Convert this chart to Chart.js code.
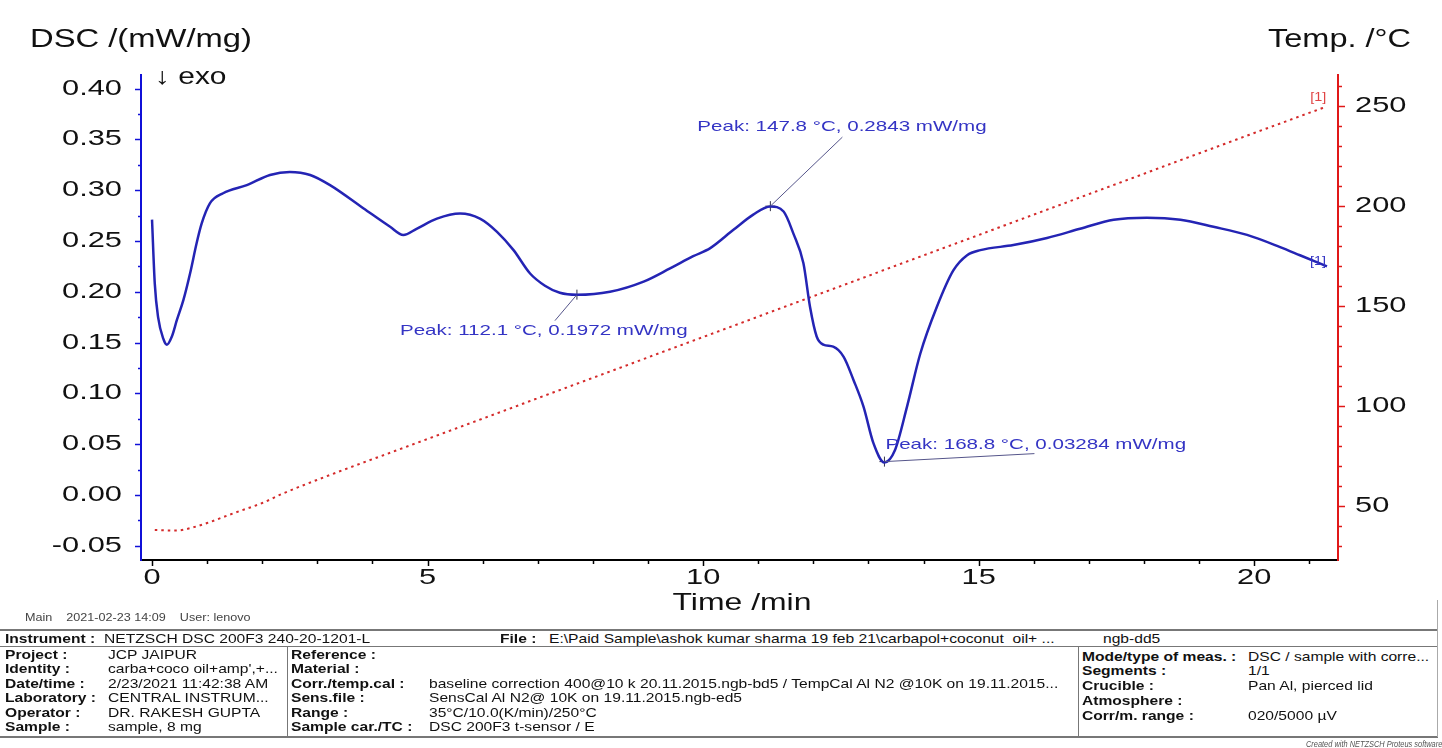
<!DOCTYPE html>
<html>
<head>
<meta charset="utf-8">
<script src="https://cdn.jsdelivr.net/npm/chart.js@4.4.1/dist/chart.umd.min.js"></script>
<style>
  html,body{margin:0;padding:0;background:#fff;overflow:hidden;}
  body{width:1442px;height:748px;position:relative;font-family:"Liberation Sans",Arial,sans-serif;}
  #chart{position:absolute;left:0;top:0;}
  .t{position:absolute;white-space:pre;font-size:13px;line-height:15px;color:#111;transform:scaleX(1.2);transform-origin:left center;}
  .b{font-weight:bold;}
  .ln{position:absolute;background:#777;}
</style>
</head>
<body>
<canvas id="chart" width="1442" height="625"></canvas>

<div class="t" style="left:25px;top:610px;font-size:10.5px;color:#444">Main    2021-02-23 14:09    User: lenovo</div>

<div class="ln" style="left:0;top:629px;width:1438px;height:1.5px"></div>
<div class="ln" style="left:0;top:646px;width:1438px;height:1px"></div>
<div class="ln" style="left:0;top:736px;width:1438px;height:1.5px"></div>
<div class="ln" style="left:287px;top:646px;width:1px;height:90px"></div>
<div class="ln" style="left:1078px;top:646px;width:1px;height:90px"></div>
<div class="ln" style="left:1437px;top:600px;width:1px;height:137px;background:#aaa"></div>

<div class="t b" style="left:5px;top:631px">Instrument :</div>
<div class="t" style="left:104px;top:631px">NETZSCH DSC 200F3 240-20-1201-L</div>
<div class="t b" style="left:500px;top:631px">File :</div>
<div class="t" style="left:549px;top:631px">E:\Paid Sample\ashok kumar sharma 19 feb 21\carbapol+coconut  oil+ ...</div>
<div class="t" style="left:1103px;top:631px">ngb-dd5</div>

<div class="t b" style="left:5px;top:647px">Project :</div>
<div class="t b" style="left:5px;top:661px">Identity :</div>
<div class="t b" style="left:5px;top:676px">Date/time :</div>
<div class="t b" style="left:5px;top:690px">Laboratory :</div>
<div class="t b" style="left:5px;top:705px">Operator :</div>
<div class="t b" style="left:5px;top:719px">Sample :</div>
<div class="t" style="left:108px;top:647px">JCP JAIPUR</div>
<div class="t" style="left:108px;top:661px">carba+coco oil+amp',+...</div>
<div class="t" style="left:108px;top:676px">2/23/2021 11:42:38 AM</div>
<div class="t" style="left:108px;top:690px">CENTRAL INSTRUM...</div>
<div class="t" style="left:108px;top:705px">DR. RAKESH GUPTA</div>
<div class="t" style="left:108px;top:719px">sample, 8 mg</div>

<div class="t b" style="left:291px;top:647px">Reference :</div>
<div class="t b" style="left:291px;top:661px">Material :</div>
<div class="t b" style="left:291px;top:676px">Corr./temp.cal :</div>
<div class="t b" style="left:291px;top:690px">Sens.file :</div>
<div class="t b" style="left:291px;top:705px">Range :</div>
<div class="t b" style="left:291px;top:719px">Sample car./TC :</div>
<div class="t" style="left:429px;top:676px">baseline correction 400@10 k 20.11.2015.ngb-bd5 / TempCal Al N2 @10K on 19.11.2015...</div>
<div class="t" style="left:429px;top:690px">SensCal Al N2@ 10K on 19.11.2015.ngb-ed5</div>
<div class="t" style="left:429px;top:705px">35°C/10.0(K/min)/250°C</div>
<div class="t" style="left:429px;top:719px">DSC 200F3 t-sensor / E</div>

<div class="t b" style="left:1082px;top:649px">Mode/type of meas. :</div>
<div class="t b" style="left:1082px;top:663px">Segments :</div>
<div class="t b" style="left:1082px;top:678px">Crucible :</div>
<div class="t b" style="left:1082px;top:693px">Atmosphere :</div>
<div class="t b" style="left:1082px;top:708px">Corr/m. range :</div>
<div class="t" style="left:1248px;top:649px">DSC / sample with corre...</div>
<div class="t" style="left:1248px;top:663px">1/1</div>
<div class="t" style="left:1248px;top:678px">Pan Al, pierced lid</div>
<div class="t" style="left:1248px;top:708px">020/5000 µV</div>

<div class="t" style="left:1306px;top:736px;font-size:9.5px;font-style:italic;color:#555;transform:scaleX(0.78)">Created with NETZSCH Proteus software</div>

<script>
/* ===== Dados ===== */
const dscTime  = [0.00,0.05,0.11,0.21,0.27,0.36,0.45,0.57,0.69,0.81,0.90,1.05,1.29,1.72,2.14,2.50,2.87,3.23,3.84,4.32,
                  4.56,4.80,5.17,5.59,5.95,6.26,6.56,6.86,7.13,7.40,7.71,8.31,8.92,9.40,9.82,10.13,10.55,10.91,11.22,11.46,
                  11.64,11.82,11.94,12.06,12.18,12.36,12.55,12.73,12.91,13.09,13.29,13.48,13.70,13.94,14.24,14.54,14.79,15.03,15.63,16.24,
                  16.84,17.45,18.05,18.66,19.26,19.87,20.47,20.83,21.32];
const dscValue = [0.271,0.208,0.175,0.153,0.148,0.156,0.172,0.192,0.218,0.248,0.267,0.287,0.297,0.305,0.315,0.318,0.315,0.305,0.282,0.264,
                  0.256,0.262,0.272,0.277,0.272,0.259,0.241,0.218,0.206,0.199,0.197,0.200,0.210,0.223,0.235,0.243,0.261,0.276,0.284,0.279,
                  0.257,0.228,0.185,0.156,0.148,0.146,0.136,0.113,0.087,0.051,0.032,0.044,0.087,0.139,0.185,0.221,0.236,0.241,0.246,0.253,
                  0.262,0.271,0.273,0.271,0.264,0.256,0.244,0.236,0.225];

const tempTime  = [0.05,0.45,0.69,1.00,1.48,2.00,2.38,2.99,5.00,10.00,15.00,20.00,21.29];
const tempValue = [38.0,37.7,38.9,41.5,46.4,51.5,56.3,63.0,83.5,134.5,185.5,236.5,249.5];

const peakTime   = [7.71, 11.22, 13.29];
const peakValue  = [0.1972, 0.2843, 0.03284];
const peakLabels = ['Peak: 112.1 °C, 0.1972 mW/mg', 'Peak: 147.8 °C, 0.2843 mW/mg', 'Peak: 168.8 °C, 0.03284 mW/mg'];

const timeTicks = [0, 5, 10, 15, 20];
const dscTicks  = [-0.05, 0.00, 0.05, 0.10, 0.15, 0.20, 0.25, 0.30, 0.35, 0.40];
const tempTicks = [50, 100, 150, 200, 250];

/* ===== Cores ===== */
const BLUE = '#2424b4', RED = '#d42a2a', TXT = '#111', ANN = '#3434c4';

/* ===== Util ===== */
const xy = (xs, ys)=> xs.map((x,i)=>({x, y:ys[i]}));

// texto "esticado" na horizontal, como no relatório original
function sText(ctx, txt, x, y, size, color, sx, align){
  ctx.save();
  ctx.font = size+'px "Liberation Sans", Arial, sans-serif';
  ctx.fillStyle = color;
  ctx.textBaseline = 'middle';
  ctx.textAlign = 'left';
  const w = ctx.measureText(txt).width * sx;
  const left = align==='center' ? x - w/2 : align==='right' ? x - w : x;
  ctx.translate(left, y);
  ctx.scale(sx, 1);
  ctx.fillText(txt, 0, 0);
  ctx.restore();
}

function line(ctx, x1, y1, x2, y2, color, w){
  ctx.beginPath(); ctx.moveTo(x1,y1); ctx.lineTo(x2,y2);
  ctx.strokeStyle = color; ctx.lineWidth = w; ctx.stroke();
}

/* ===== Decoração: ticks, rótulos, títulos, anotações ===== */
const decor = {
  id:'decor',
  afterDraw(chart){
    const ctx = chart.ctx, a = chart.chartArea;
    const sx = chart.scales.x, sl = chart.scales.yDsc, sr = chart.scales.yTemp;
    ctx.save();

    // ticks eixo X (para baixo)
    for (let v=0; v<=21; v++){
      const px = Math.round(sx.getPixelForValue(v)) + 0.5;
      line(ctx, px, a.bottom, px, a.bottom + (v%5===0 ? 6 : 4), '#000', 1.5);
    }
    // ticks eixo esquerdo (para fora)
    for (let k=-2; k<=16; k++){
      const v = k*0.025;
      const py = Math.round(sl.getPixelForValue(v)) + 0.5;
      if (py < a.top || py > a.bottom) continue;
      line(ctx, a.left - (k%2===0 ? 6 : 3), py, a.left, py, '#1010d8', 1.5);
    }
    // ticks eixo direito
    for (let v=30; v<=260; v+=10){
      const py = Math.round(sr.getPixelForValue(v)) + 0.5;
      line(ctx, a.right, py, a.right + (v%50===0 ? 7 : 4), py, '#e01818', 1.5);
    }

    // rótulos dos ticks (a partir dos ticks das escalas)
    sx.ticks.forEach(t=> sText(ctx, String(t.value), sx.getPixelForValue(t.value), a.bottom + 18, 22, TXT, 1.4, 'center'));
    sl.ticks.forEach(t=> sText(ctx, t.value.toFixed(2), a.left - 19, sl.getPixelForValue(t.value), 22, TXT, 1.4, 'right'));
    sr.ticks.forEach(t=> sText(ctx, String(t.value), a.right + 17, sr.getPixelForValue(t.value), 22, TXT, 1.4, 'left'));

    // títulos
    sText(ctx, 'DSC /(mW/mg)', 30, 40, 25, TXT, 1.31, 'left');
    sText(ctx, 'Temp. /°C', 1268, 40, 25, TXT, 1.3, 'left');
    sText(ctx, 'Time /min', 742, 603, 24, TXT, 1.33, 'center');
    sText(ctx, '↓ exo', 155, 78, 23, TXT, 1.3, 'left');

    // anotações dos picos
    const offs = [ {tx:-177, ty:36, lx:-22, ly:26}, {tx:-73, ty:-79, lx:72, ly:-69}, {tx:1, ty:-17, lx:150, ly:-8} ];
    peakTime.forEach((t,i)=>{
      const px = sx.getPixelForValue(t), py = sl.getPixelForValue(peakValue[i]);
      const o = offs[i];
      line(ctx, px, py, px+o.lx, py+o.ly, '#55558a', 1);
      sText(ctx, peakLabels[i], px+o.tx, py+o.ty, 15, ANN, 1.37, 'left');
    });

    // marcadores [1]
    const dLast = chart.getDatasetMeta(0).data.at(-1);
    const tLast = chart.getDatasetMeta(1).data.at(-1);
    sText(ctx, '[1]', dLast.x - 9, dLast.y - 5, 12, ANN, 1.2, 'center');
    sText(ctx, '[1]', tLast.x - 7, tLast.y - 9, 12, '#e04444', 1.2, 'center');

    ctx.restore();
  }
};

/* ===== Gráfico ===== */
new Chart(document.getElementById('chart').getContext('2d'), {
  type:'line',
  data:{ datasets:[
    { data:xy(dscTime, dscValue), yAxisID:'yDsc', borderColor:BLUE, borderWidth:2.5, pointRadius:0,
      cubicInterpolationMode:'monotone', fill:false },
    { data:xy(tempTime, tempValue), yAxisID:'yTemp', borderColor:RED, borderWidth:2, borderDash:[2.5,4],
      pointRadius:0, cubicInterpolationMode:'monotone', fill:false },
    { type:'scatter', data:xy(peakTime, peakValue), yAxisID:'yDsc', pointStyle:'cross', pointRadius:5,
      borderColor:'#303048', borderWidth:1, showLine:false }
  ]},
  options:{
    responsive:false, animation:false, devicePixelRatio:1,
    layout:{ padding:{top:75, left:0, right:0, bottom:0} },
    plugins:{ legend:{display:false}, tooltip:{enabled:false} },
    scales:{
      x:{ type:'linear', min:-0.2, max:21.52,
          grid:{display:false, drawTicks:false}, border:{color:'#000', width:2},
          ticks:{display:false},
          afterBuildTicks:(s)=>{ s.ticks = timeTicks.map(v=>({value:v})); },
          afterFit:(s)=>{ s.height = 65; } },
      yDsc:{ type:'linear', position:'left', min:-0.064, max:0.4134,
          grid:{display:false, drawTicks:false}, border:{color:'#1010d8', width:2},
          ticks:{display:false},
          afterBuildTicks:(s)=>{ s.ticks = dscTicks.map(v=>({value:v})); },
          afterFit:(s)=>{ s.width = 141; } },
      yTemp:{ type:'linear', position:'right', min:23, max:265.5,
          grid:{display:false, drawTicks:false}, border:{color:'#e01818', width:2},
          ticks:{display:false},
          afterBuildTicks:(s)=>{ s.ticks = tempTicks.map(v=>({value:v})); },
          afterFit:(s)=>{ s.width = 104; } }
    }
  },
  plugins:[decor]
});
</script>
</body>
</html>
